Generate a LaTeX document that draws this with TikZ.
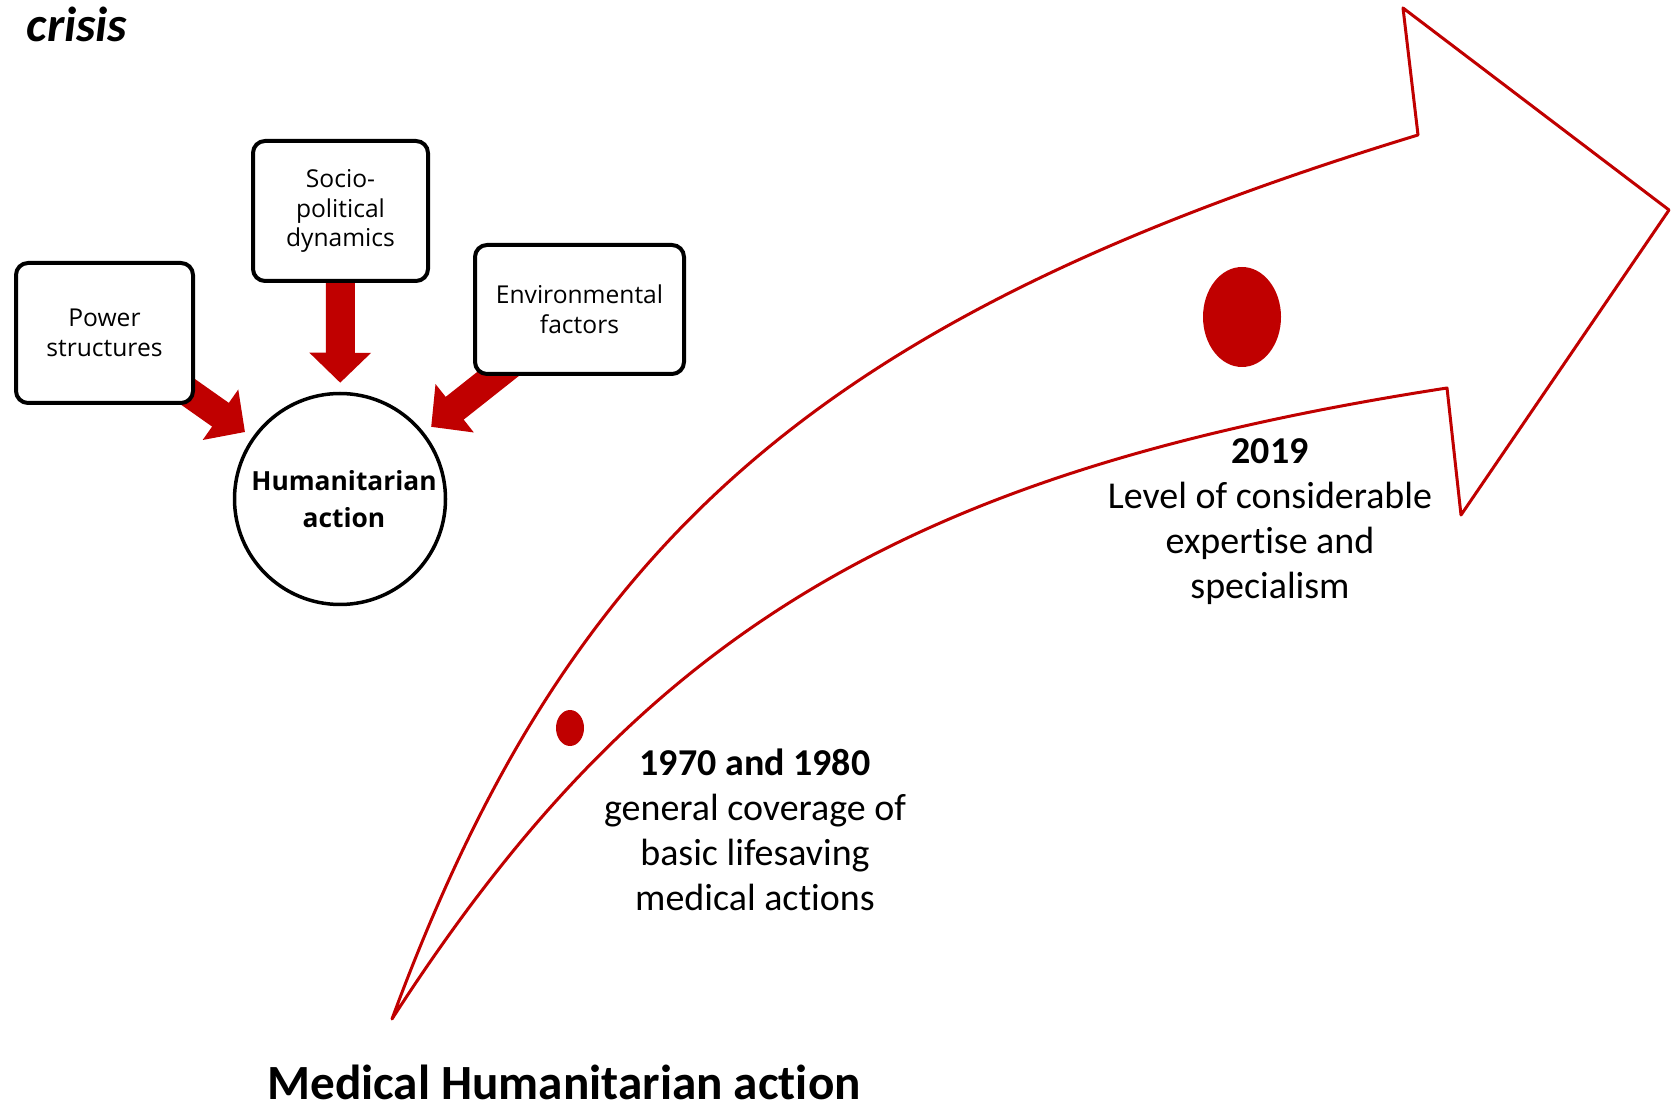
\documentclass[tikz,border=0pt]{standalone}
\usepackage{fontspec}
\setmainfont{Carlito}[Ligatures=NoCommon]
\newfontfamily\boxfont{Open Sans}
\usetikzlibrary{arrows.meta,shapes.geometric,backgrounds}
\definecolor{hred}{HTML}{C00000}

\begin{document}
\begin{tikzpicture}[x=0.1mm, y=-0.1mm,
  factor/.style={draw, line width=0.4mm, rounded corners=1.2mm, fill=white, align=center, inner sep=0pt,
    font=\boxfont\fontsize{7}{8.5}\selectfont},
  core/.style={circle, draw, line width=0.35mm, fill=white, minimum size=21.1mm, inner sep=0pt, align=center,
    font=\boxfont\bfseries\fontsize{7.5}{10.6}\selectfont},
  push/.style={hred, line width=2.9mm, -{Triangle[width=6mm,length=3mm]}, shorten >=0.9mm},
  note/.style={align=center, font=\fontsize{10.8}{12.8}\selectfont},
  dot/.style={ellipse, fill=hred, inner sep=0pt}]
  \useasboundingbox (0,0) rectangle (1673,1111);

  \node[font=\bfseries\itshape\fontsize{14}{16}\selectfont] (crisis) at (77,24) {crisis};

  \node[factor, minimum width=17.7mm, minimum height=14mm] (pow) at (104.5,333) {Power\\structures};
  \node[factor, minimum width=17.5mm, minimum height=14mm] (soc) at (340.5,211) {Socio-\\political\\dynamics};
  \node[factor, minimum width=20.9mm, minimum height=12.9mm] (env) at (579.5,309.5) {Environmental\\factors};
  \node[core] (hum) at (340,499) {\hspace*{0.8mm}Humanitarian\\\hspace*{0.8mm}action};

  \begin{scope}[on background layer]
  \path[push]
  (soc.center) edge (hum)
  (pow.center) edge (hum)
  (env.center) edge (hum)
  ;
  \end{scope}

  % rising arrow
  \draw[hred, line width=0.3mm, line join=round]
    (392,1019) .. controls (569,540) and (818,318) .. (1418,135) -- (1403,8) -- (1669,210)
    -- (1461,515) -- (1447,388) .. controls (904,472) and (640,634) .. (392,1019) -- cycle;

  \node[dot, minimum width=2.8mm, minimum height=3.6mm] (d1) at (570,728) {};
  \node[dot, minimum width=7.8mm, minimum height=10mm] (d2) at (1242,317) {};

  \node[note] (early) at (755,830) {\textbf{1970 and 1980}\\general coverage of\\basic lifesaving\\medical actions};
  \node[note] (late) at (1270,522) {\textbf{2019}\\Level of considerable\\expertise and\\specialism};

  \node[font=\bfseries\fontsize{14}{17}\selectfont, inner sep=0pt] (med) at (564,1082) {Medical Humanitarian action};
\end{tikzpicture}
\end{document}
